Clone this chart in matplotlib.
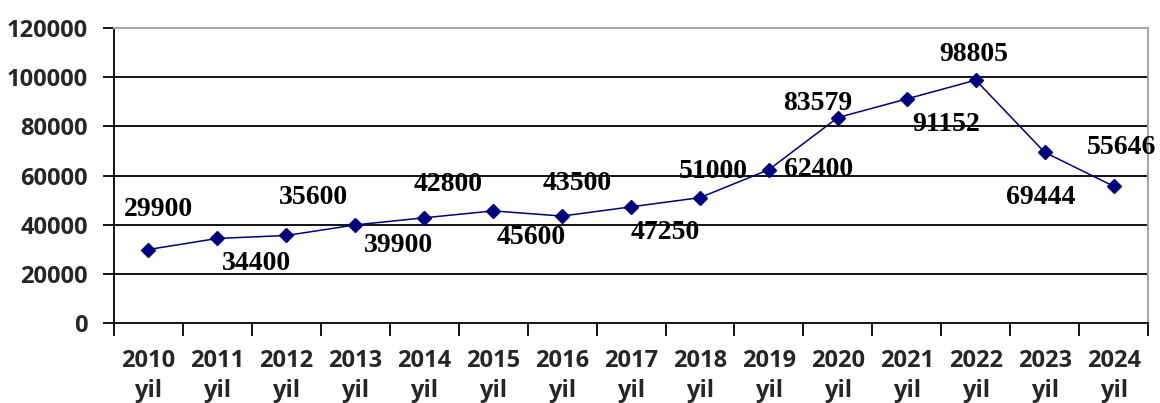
import matplotlib.pyplot as plt

# Data
years = ["2010", "2011", "2012", "2013", "2014", "2015", "2016", "2017",
         "2018", "2019", "2020", "2021", "2022", "2023", "2024"]
values = [29900, 34400, 35600, 39900, 42800, 45600, 43500, 47250,
          51000, 62400, 83579, 91152, 98805, 69444, 55646]
y_ticks = [0, 20000, 40000, 60000, 80000, 100000, 120000]

# label offsets from each point, in pixels (dx right, dy up)
label_offsets = [(10, 40), (39, -25), (27, 38), (43, -21), (24, 33),
                 (38, -27), (15, 33), (34, -26), (13, 26), (50, 0),
                 (-20, 14), (39, -26), (-2, 26), (-4, -45), (8, 39)]

line_color = '#00007a'
grid_gray = '#a6a6a6'

fig = plt.figure(figsize=(11.6, 4.03), dpi=100)
ax = fig.add_axes([0.0983, 0.1985, 0.8914, 0.732])

x = list(range(len(years)))
ax.plot(x, values, color=line_color, lw=1.1, marker='D', markersize=7,
        markerfacecolor=line_color, markeredgecolor=line_color, zorder=3)

for xi, v, (dx, dy) in zip(x, values, label_offsets):
    ax.annotate(str(v), (xi, v), xytext=(dx, dy), textcoords='offset pixels',
                ha='center', va='center', fontsize=20, fontweight='bold',
                family='Liberation Serif', color='black', zorder=4)

ax.set_xlim(-0.5, len(years) - 0.5)
ax.set_ylim(0, 120000)

# horizontal grid lines
for t in y_ticks[1:-1]:
    ax.axhline(t, color='black', lw=1.3, zorder=1)

ax.set_yticks(y_ticks)
ax.set_yticklabels([str(t) for t in y_ticks], fontsize=17, fontweight='bold',
                   family='Open Sans', color='#262626')
ax.tick_params(axis='y', length=8, width=1.3, pad=11, color='black')

# boundary ticks on x, labels centred on categories
ax.set_xticks([i - 0.5 for i in range(len(years) + 1)])
ax.set_xticklabels([])
ax.set_xticks(x, minor=True)
ax.set_xticklabels([y + "\nyil" for y in years], minor=True, fontsize=17,
                   fontweight='bold', family='Open Sans', color='#262626',
                   linespacing=1.3)
ax.tick_params(axis='x', which='major', length=9, width=1.3, color='black')
ax.tick_params(axis='x', which='minor', length=0, pad=19)

for s in ['left', 'bottom']:
    ax.spines[s].set_color('black')
    ax.spines[s].set_linewidth(1.3)
for s in ['top', 'right']:
    ax.spines[s].set_color(grid_gray)
    ax.spines[s].set_linewidth(1.5)

fig.savefig('out.png', dpi=100)
